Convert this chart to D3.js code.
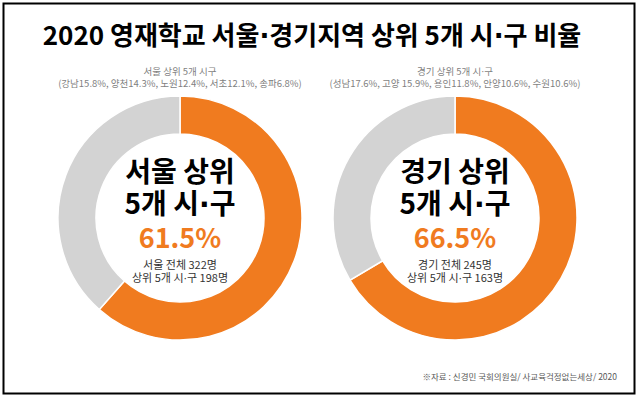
<!DOCTYPE html>
<html>
<head>
<meta charset="utf-8">
<script src="https://cdn.jsdelivr.net/npm/d3@7"></script>
<style>
  body { margin: 0; background: #fff; }
  svg { display: block; font-family: "Noto Sans CJK KR", "Noto Sans", sans-serif; }
</style>
</head>
<body>
<svg width="638" height="399"></svg>
<script>
var title = "2020 영재학교 서울·경기지역 상위 5개 시·구 비율";
var regions = ["서울", "경기"];
var totals = [322, 245];
var topCounts = [198, 163];
var shares = [61.5, 66.5];
var topNames = ["서울 상위 5개 시구", "경기 상위 5개 시·구"];
var topLists = [
  "(강남15.8%, 양천14.3%, 노원12.4%, 서초12.1%, 송파6.8%)",
  "(성남17.6%, 고양 15.9%, 용인11.8%, 안양10.6%, 수원10.6%)"
];
var source = "※자료 : 신경민 국회의원실/ 사교육걱정없는세상/ 2020";

var svg = d3.select("svg"),
    outerR = 122, innerR = 84,
    colors = ["#f07b1f", "#d3d3d3"];

var xPos = d3.scalePoint().domain(regions).range([180, 455]);

// the CJK font draws "·" full width; put it in a narrow latin font
function dotText(sel, str) {
  str.split("·").forEach(function(part, k) {
    if (k > 0) sel.append("tspan").attr("font-family", "DejaVu Sans").text("·");
    sel.append("tspan").text(part);
  });
  return sel;
}

svg.append("rect")
  .attr("x", 3.5).attr("y", 3.5)
  .attr("width", 631).attr("height", 390)
  .attr("fill", "none").attr("stroke", "#000").attr("stroke-width", 2);

dotText(svg.append("text")
  .attr("x", 312).attr("y", 45)
  .attr("text-anchor", "middle")
  .attr("font-size", 26).attr("font-weight", "bold")
  .attr("fill", "#000"), title);

var pie = d3.pie().sort(null).value(d => d);
var arc = d3.arc().innerRadius(innerR).outerRadius(outerR);

regions.forEach(function(r, i) {
  var cx = xPos(r), cy = 218;
  var g = svg.append("g").attr("transform", "translate(" + cx + "," + cy + ")");

  g.selectAll("path")
    .data(pie([shares[i], 100 - shares[i]]))
    .enter().append("path")
      .attr("d", arc)
      .attr("fill", (d, j) => colors[j])
      .attr("stroke", "#fff").attr("stroke-width", 1.5);

  dotText(svg.append("text")
    .attr("x", cx).attr("y", 75)
    .attr("text-anchor", "middle")
    .attr("font-size", 9.5).attr("fill", "#7f7f7f"), topNames[i]);
  svg.append("text")
    .attr("x", cx).attr("y", 87)
    .attr("text-anchor", "middle")
    .attr("font-size", 9.5).attr("fill", "#7f7f7f")
    .text(topLists[i]);

  g.append("text")
    .attr("y", -36).attr("text-anchor", "middle")
    .attr("font-size", 28).attr("font-weight", "bold").attr("fill", "#000")
    .text(r + " 상위");
  dotText(g.append("text")
    .attr("y", -4).attr("text-anchor", "middle")
    .attr("font-size", 28).attr("font-weight", "bold").attr("fill", "#000"),
    "5개 시·구");
  g.append("text")
    .attr("y", 30).attr("text-anchor", "middle")
    .attr("font-size", 27).attr("font-weight", "bold").attr("fill", colors[0])
    .text(shares[i].toFixed(1) + "%");
  g.append("text")
    .attr("y", 51).attr("text-anchor", "middle")
    .attr("font-size", 11).attr("fill", "#333")
    .text(r + " 전체 " + totals[i] + "명");
  dotText(g.append("text")
    .attr("y", 64).attr("text-anchor", "middle")
    .attr("font-size", 11).attr("fill", "#333"),
    "상위 5개 시·구 " + topCounts[i] + "명");
});

svg.append("text")
  .attr("x", 617).attr("y", 380)
  .attr("text-anchor", "end")
  .attr("font-size", 8.5).attr("fill", "#595959")
  .text(source);
</script>
</body>
</html>
